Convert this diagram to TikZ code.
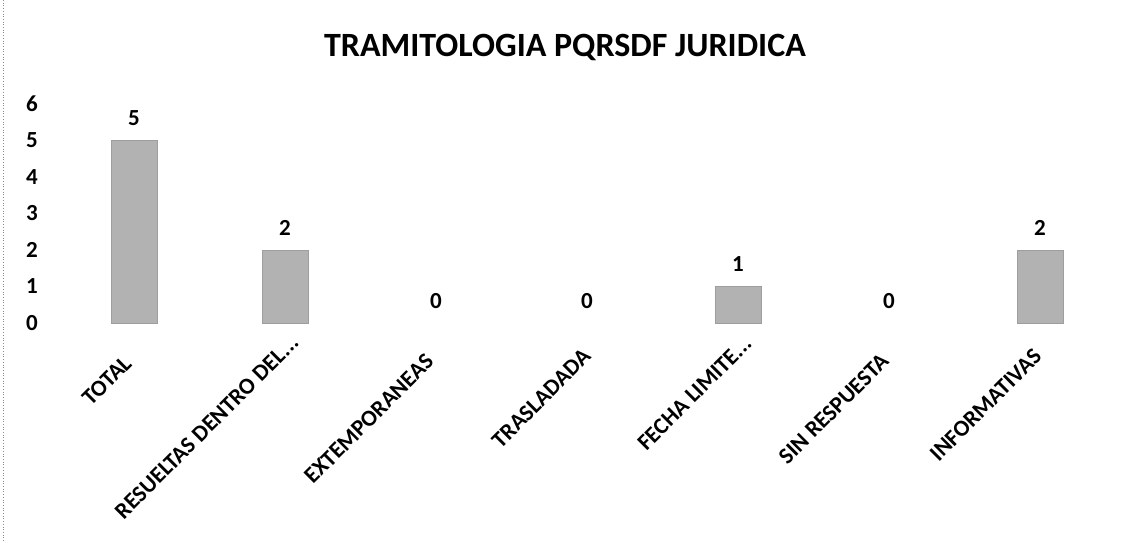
\documentclass[tikz,border=0pt]{standalone}
\usepackage{fontspec}
\setmainfont{Carlito}
\newcommand\mytdots{.\kern0pt.\kern0pt.}
\begin{document}
\begin{tikzpicture}[x=1pt,y=-1pt,
  bar/.style={fill=black!30, draw=black!38, line width=0.6pt},
  ytick/.style={font=\fontsize{23}{23}\selectfont\bfseries, anchor=center, inner sep=0pt},
  datalbl/.style={font=\fontsize{23}{23}\selectfont\bfseries, anchor=center, inner sep=0pt},
  catlbl/.style={font=\fontsize{23}{23}\selectfont\bfseries, rotate=45, anchor=base east, inner sep=0pt},
  titlelbl/.style={font=\fontsize{34}{34}\selectfont\bfseries, anchor=center, inner sep=0pt}]
\useasboundingbox (0,0) rectangle (1131,542);
\fill[white] (0,0) rectangle (1131,542);
% scan border
\draw[black!45, dotted, line width=0.7pt] (3,0) -- (3,542);
% title
\node[titlelbl] (title) at (565,47) {TRAMITOLOGIA PQRSDF JURIDICA};
% y axis numbers
\foreach \v in {0,1,2,3,4,5,6}{
  \node[ytick] (y\v) at (32,{323-36.5*\v}) {\v};
}
% bars and labels
\def\zero{323}
\def\unit{36.6}
\foreach \i/\val/\lab/\name/\lx/\ly in {
  0/5/TOTAL/tot/133/365,
  1/2/{RESUELTAS DENTRO DEL\mytdots}/res/300/344,
  2/0/EXTEMPORANEAS/ext/435/363,
  3/0/TRASLADADA/tra/592/358,
  4/1/{FECHA LIMITE\mytdots}/fec/753/345,
  5/0/SIN RESPUESTA/sin/890/363,
  6/2/INFORMATIVAS/inf/1043/358}{
  \pgfmathsetmacro{\cx}{134+151*\i}
  \pgfmathsetmacro{\top}{\zero-\unit*\val}
  \ifnum\val>0
    \draw[bar] ({\cx-23},\zero) rectangle ({\cx+23},\top);
  \fi
  \node[datalbl] (d\name) at (\cx,{\top-22}) {\val};
  \node[catlbl] (c\name) at (\lx,\ly) {\lab};
}
\end{tikzpicture}
\end{document}
